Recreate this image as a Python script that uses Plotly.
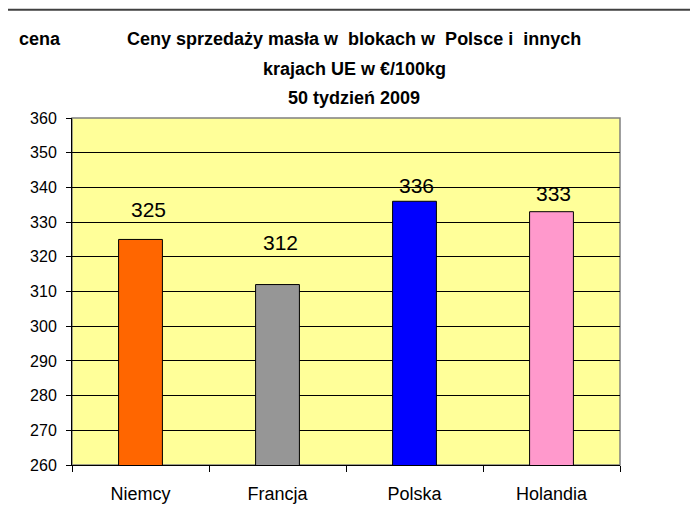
import plotly.graph_objects as go

# ---- data ----
countries = ["Niemcy", "Francja", "Polska", "Holandia"]
prices = [325, 312, 336, 333]
bar_colors = ["#FF6600", "#969696", "#0000FF", "#FF99CC"]
y_ticks = [260, 270, 280, 290, 300, 310, 320, 330, 340, 350, 360]

title_lines = ["Ceny sprzedaży masła w  blokach w  Polsce i  innych",
               "krajach UE w €/100kg",
               "50 tydzień 2009"]
y_title = "cena"

# label nudges (pixels) as placed in the original chart
label_xshift = [8, 3, 2, 1.5]
label_yshift = [16, 29, 2, 5]

FONT = "Arial, Liberation Sans, sans-serif"

fig = go.Figure()
fig.add_trace(go.Bar(
    x=countries, y=prices,
    marker=dict(color=bar_colors, line=dict(color="black", width=1)),
    showlegend=False,
    hoverinfo="x+y",
))

annotations = []
for c, v, xs, ys in zip(countries, prices, label_xshift, label_yshift):
    annotations.append(dict(
        x=c, y=v, xref="x", yref="y", text=str(v), showarrow=False,
        yanchor="bottom", xanchor="center", xshift=xs, yshift=ys,
        font=dict(family=FONT, size=21, color="black")))

title_y = [1.2276, 1.141, 1.0576]
for t, yy in zip(title_lines, title_y):
    annotations.append(dict(
        x=0.5146, y=yy, xref="paper", yref="paper", text="<b>%s</b>" % t,
        showarrow=False, xanchor="center", yanchor="middle",
        font=dict(family=FONT, size=18, color="black")))

annotations.append(dict(
    x=-0.0585, y=1.2276, xref="paper", yref="paper", text="<b>%s</b>" % y_title,
    showarrow=False, xanchor="center", yanchor="middle",
    font=dict(family=FONT, size=18, color="black")))

fig.update_layout(
    width=690, height=504,
    margin=dict(l=64, r=78, t=110, b=47, pad=0, autoexpand=False),
    paper_bgcolor="white",
    plot_bgcolor="#FFFF99",
    bargap=0.68,
    font=dict(family=FONT, color="black"),
    annotations=annotations,
    shapes=[
        dict(type="rect", xref="paper", yref="paper", x0=0, x1=1, y0=0, y1=1,
             line=dict(color="#808080", width=1.5), layer="between"),
        dict(type="line", xref="paper", yref="paper", x0=-0.2, x1=1.2,
             y0=1.312, y1=1.312, line=dict(color="#404040", width=2)),
    ],
)

fig.update_yaxes(
    range=[260, 360], tickvals=y_ticks, ticktext=[str(v) for v in y_ticks],
    showgrid=True, gridcolor="black", gridwidth=1,
    showline=True, linecolor="black", linewidth=1,
    ticks="outside", ticklen=5, tickcolor="black", tickwidth=1,
    ticklabelstandoff=6,
    zeroline=False, automargin=False,
    tickfont=dict(family=FONT, size=16, color="black"),
)
fig.update_xaxes(
    type="category", tickson="boundaries",
    showgrid=False,
    showline=True, linecolor="black", linewidth=1,
    ticks="outside", ticklen=6, tickcolor="black", tickwidth=1,
    ticklabelstandoff=12, automargin=False,
    tickfont=dict(family=FONT, size=18, color="black"),
)

fig.write_html("out.html")
